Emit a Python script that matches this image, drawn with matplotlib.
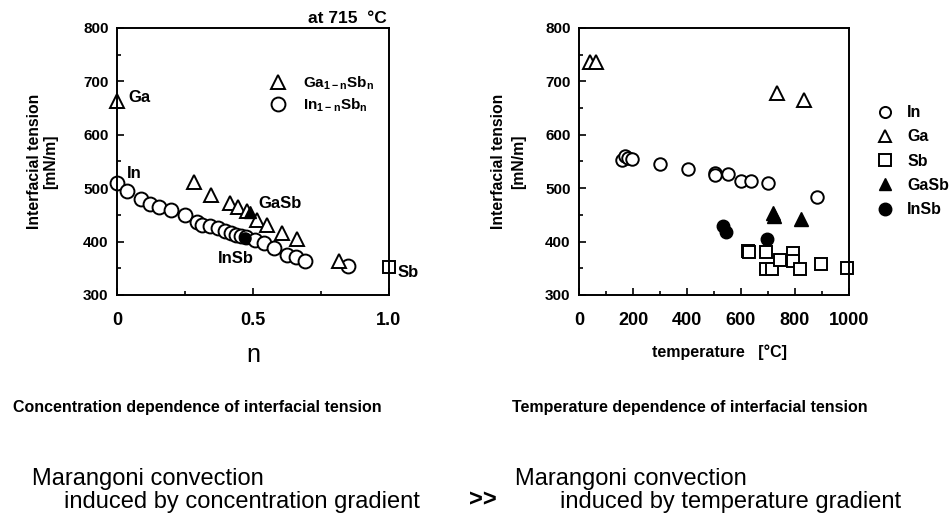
import matplotlib
matplotlib.use("Agg")
import matplotlib.pyplot as plt
from matplotlib.ticker import MultipleLocator
from matplotlib.lines import Line2D

plt.rcParams['font.family'] = ['Liberation Sans', 'DejaVu Sans']

# ---- concentration dependence at 715 C ----
ga_n = [0.0, 0.283, 0.346, 0.415, 0.446, 0.477, 0.514, 0.55, 0.605, 0.662, 0.818]
ga_sigma = [664, 512, 488, 472, 464, 457, 440, 431, 416, 405, 363]
in_n = [0.0, 0.037, 0.089, 0.123, 0.156, 0.197, 0.249, 0.294, 0.312, 0.342, 0.372,
        0.398, 0.42, 0.439, 0.457, 0.476, 0.509, 0.539, 0.576, 0.625, 0.658, 0.691, 0.851]
in_sigma = [509, 494, 479, 470, 464, 459, 449, 436, 431, 429, 425,
            420, 416, 412, 410, 408, 403, 397, 388, 375, 371, 364, 354]
gasb_n, gasb_sigma = [0.49], [455]
insb_n, insb_sigma = [0.47], [407]
sb_n, sb_sigma = [1.0], [352]

# ---- temperature dependence ----
t_in = [159, 169, 180, 195, 301, 402, 503, 505, 552, 601, 638, 700, 882]
s_in = [553, 561, 556, 555, 546, 535, 529, 524, 526, 513, 513, 510, 484]
t_ga = [39, 63, 734, 835]
s_ga = [737, 737, 678, 666]
t_sb = [626, 630, 692, 692, 716, 744, 793, 793, 818, 897, 993]
s_sb = [383, 380, 380, 349, 349, 366, 378, 364, 349, 358, 350]
t_gasb = [718, 722, 823]
s_gasb = [454, 448, 442]
t_insb = [535, 544, 695]
s_insb = [429, 417, 405]

fig = plt.figure(figsize=(9.52, 5.23), dpi=100)
ax1 = fig.add_axes([0.1229, 0.436, 0.2857, 0.5105])
ax2 = fig.add_axes([0.6082, 0.436, 0.2836, 0.5105])

mk = dict(linestyle='none', markerfacecolor='white', markeredgecolor='black',
          markeredgewidth=1.4, clip_on=False)
bold = dict(fontweight='bold')

# Left plot
ax1.plot(in_n, in_sigma, marker='o', markersize=10, **mk)
ax1.plot(ga_n, ga_sigma, marker='^', markersize=10, **mk)
ax1.plot(sb_n, sb_sigma, marker='s', markersize=9, **mk)
ax1.plot(gasb_n, gasb_sigma, marker='^', markersize=8, linestyle='none', color='black')
ax1.plot(insb_n, insb_sigma, marker='o', markersize=8, linestyle='none', color='black')
ax1.set_xlim(0, 1.0)
ax1.set_ylim(300, 800)
ax1.xaxis.set_major_locator(MultipleLocator(0.5))
ax1.xaxis.set_minor_locator(MultipleLocator(0.25))
ax1.yaxis.set_major_locator(MultipleLocator(100))
ax1.yaxis.set_minor_locator(MultipleLocator(50))
ax1.xaxis.set_major_formatter(plt.FuncFormatter(lambda v, p: '0' if v == 0 else f'{v:.1f}'))

ax1.text(0.04, 669, 'Ga', fontsize=12, va='center', **bold)
ax1.text(0.035, 528, 'In', fontsize=12, va='center', **bold)
ax1.text(0.52, 472, 'GaSb', fontsize=12, va='center', **bold)
ax1.text(0.37, 369, 'InSb', fontsize=12, va='center', **bold)
ax1.text(1.03, 343, 'Sb', fontsize=12, va='center', **bold)
ax1.text(0.993, 818, 'at 715  \u00b0C', fontsize=12.5, ha='right', va='center', **bold)

ax1.set_xlabel('n', fontsize=18, labelpad=10)
ax1.set_ylabel('Interfacial tension\n[mN/m]', fontsize=11.3, linespacing=1.1, **bold)
ax1.yaxis.set_label_coords(-0.217, 0.5)

h1 = [Line2D([], [], marker='^', markersize=10, **mk),
      Line2D([], [], marker='o', markersize=10, **mk)]
ax1.legend(h1, [r'Ga$_{\mathregular{1-n}}$Sb$_{\mathregular{n}}$',
                r'In$_{\mathregular{1-n}}$Sb$_{\mathregular{n}}$'],
           loc='upper left', bbox_to_anchor=(0.536, 0.85), frameon=False,
           prop={'weight': 'bold', 'size': 11}, handlelength=1.2,
           handletextpad=1.0, labelspacing=0.3, borderaxespad=0)

# Right plot
ax2.plot(t_in, s_in, marker='o', markersize=9, **mk)
ax2.plot(t_ga, s_ga, marker='^', markersize=10, **mk)
ax2.plot(t_sb, s_sb, marker='s', markersize=9, **mk)
ax2.plot(t_gasb, s_gasb, marker='^', markersize=10, linestyle='none', color='black', clip_on=False)
ax2.plot(t_insb, s_insb, marker='o', markersize=9, linestyle='none', color='black', clip_on=False)
ax2.set_xlim(0, 1000)
ax2.set_ylim(300, 800)
ax2.xaxis.set_major_locator(MultipleLocator(200))
ax2.xaxis.set_minor_locator(MultipleLocator(100))
ax2.yaxis.set_major_locator(MultipleLocator(100))
ax2.yaxis.set_minor_locator(MultipleLocator(50))
ax2.set_xlabel('temperature   [\u00b0C]', fontsize=11.5, **bold)
ax2.xaxis.set_label_coords(0.522, -0.184)
ax2.set_ylabel('Interfacial tension\n[mN/m]', fontsize=11.3, linespacing=1.4, **bold)
ax2.yaxis.set_label_coords(-0.196, 0.5)

h2 = [Line2D([], [], marker='o', markersize=8, **mk),
      Line2D([], [], marker='^', markersize=9, **mk),
      Line2D([], [], marker='s', markersize=8, **mk),
      Line2D([], [], marker='^', markersize=9, linestyle='none', color='black'),
      Line2D([], [], marker='o', markersize=9, linestyle='none', color='black')]
ax2.legend(h2, ['In', 'Ga', 'Sb', 'GaSb', 'InSb'], loc='upper left',
           bbox_to_anchor=(1.08, 0.735), frameon=False,
           prop={'weight': 'bold', 'size': 11.5}, handlelength=1.0,
           handletextpad=0.9, labelspacing=0.58, borderaxespad=0)

for ax in (ax1, ax2):
    for s in ax.spines.values():
        s.set_linewidth(1.4)
    ax.tick_params(which='both', direction='in', width=1.2)
    ax.tick_params(which='major', length=5)
    ax.tick_params(which='minor', length=3)
    ax.tick_params(axis='x', which='both', pad=12, labelsize=13, top=False)
    ax.tick_params(axis='y', which='both', pad=6, labelsize=11, right=False)
    for lab in ax.get_xticklabels() + ax.get_yticklabels():
        lab.set_fontweight('bold')

# captions under each plot
fig.text(0.207, 0.22, 'Concentration dependence of interfacial tension',
         fontsize=11.5, ha='center', va='center', **bold)
fig.text(0.725, 0.22, 'Temperature dependence of interfacial tension',
         fontsize=11.5, ha='center', va='center', **bold)

# conclusion line
fig.text(0.034, 0.085, 'Marangoni convection', fontsize=17, ha='left', va='center')
fig.text(0.067, 0.040, 'induced by concentration gradient', fontsize=17, ha='left', va='center')
fig.text(0.507, 0.044, '>>', fontsize=17, ha='center', va='center', **bold)
fig.text(0.541, 0.085, 'Marangoni convection', fontsize=17, ha='left', va='center')
fig.text(0.588, 0.040, 'induced by temperature gradient', fontsize=17, ha='left', va='center')

fig.savefig('out.png', dpi=100)
